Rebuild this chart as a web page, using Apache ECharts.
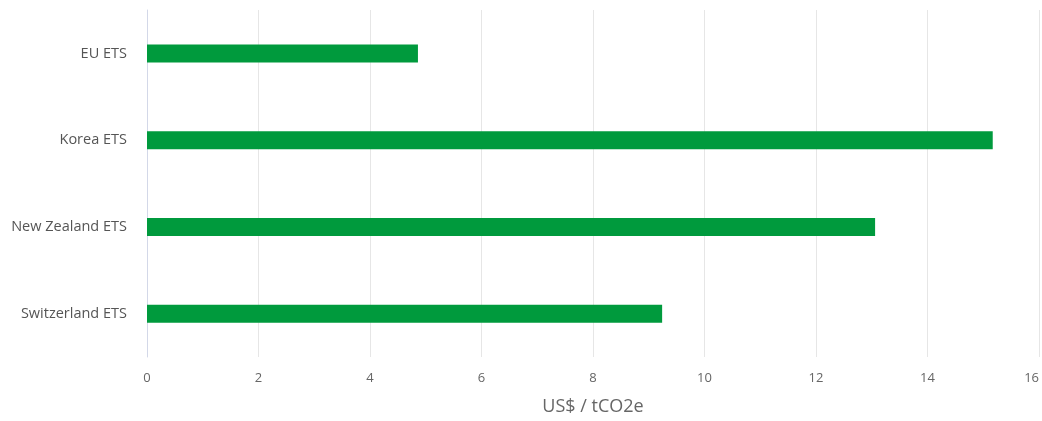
<!DOCTYPE html>
<html>
<head>
<meta charset="utf-8">
<script src="https://cdn.jsdelivr.net/npm/echarts@6/dist/echarts.min.js"></script>
<style>
html,body{margin:0;padding:0;background:#fff;}
#chart{width:1042px;height:421px;}
</style>
</head>
<body>
<div id="chart"></div>
<script>
const categories = ["EU ETS", "Korea ETS", "New Zealand ETS", "Switzerland ETS"];
const prices = [4.86, 15.17, 13.06, 9.24];
const xTicks = {min: 0, max: 16, interval: 2};

const chart = echarts.init(document.getElementById('chart'), null, {renderer: 'canvas'});
chart.setOption({
  animation: false,
  textStyle: {fontFamily: '"Open Sans", sans-serif'},
  grid: {left: 147, right: -1, top: 10, bottom: 46, containLabel: false},
  xAxis: {
    type: 'value',
    min: xTicks.min, max: xTicks.max, interval: xTicks.interval,
    name: 'US$ / tCO2e',
    nameLocation: 'middle',
    nameGap: 41,
    nameTextStyle: {fontSize: 18, color: '#666'},
    axisLine: {show: false},
    axisTick: {show: false},
    axisLabel: {color: '#666', fontSize: 13, margin: 15, alignMaxLabel: 'right'},
    splitLine: {show: true, lineStyle: {color: '#e6e6e6', width: 1}}
  },
  yAxis: {
    type: 'category',
    data: categories,
    inverse: true,
    axisLine: {show: true, lineStyle: {color: '#d3d8e8', width: 1}},
    axisTick: {show: false},
    axisLabel: {color: '#555', fontSize: 14.5, margin: 20}
  },
  series: [{
    type: 'bar',
    data: prices,
    barWidth: 18,
    itemStyle: {color: '#009a3d'}
  }]
});
</script>
</body>
</html>
